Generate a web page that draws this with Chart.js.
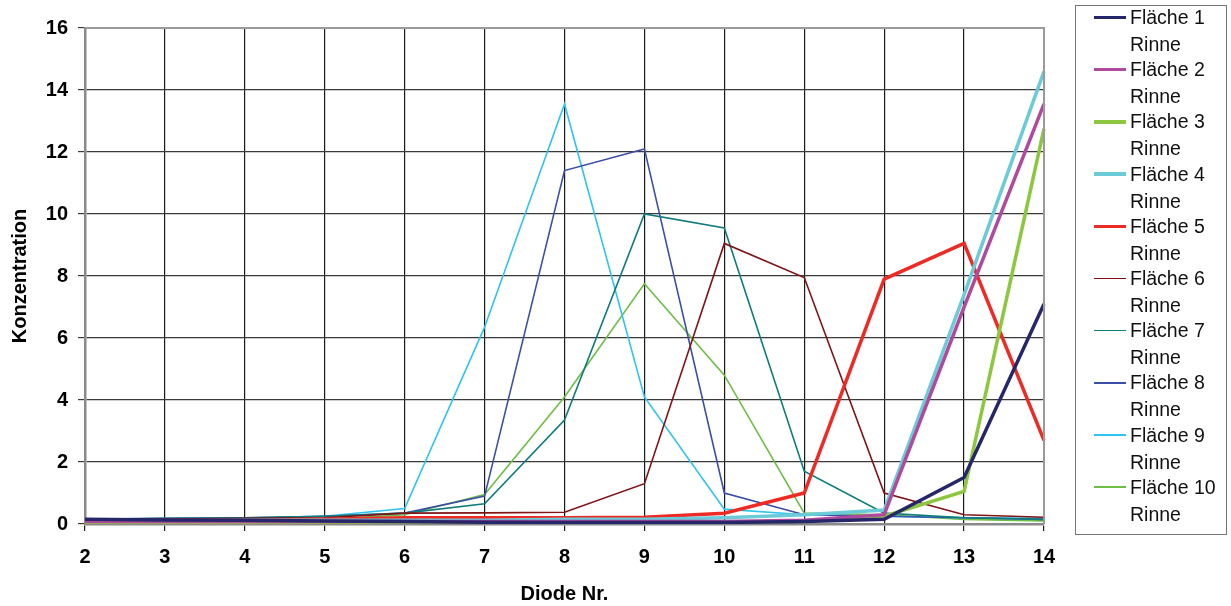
<!DOCTYPE html>
<html>
<head>
<meta charset="utf-8">
<script src="https://cdn.jsdelivr.net/npm/chart.js@4"></script>
<style>
  html, body { margin: 0; padding: 0; background: #fff; }
  #wrap { position: relative; width: 1231px; height: 606px; }
  #legend {
    position: absolute; left: 1075px; top: 5px; width: 152px; height: 530px;
    border: 1px solid #777; box-sizing: border-box;
    font-family: "Liberation Sans", Arial, sans-serif; font-size: 19.5px; color: #111;
  }
  .item { position: absolute; left: 0; }
  .swatch { position: absolute; left: 18px; width: 32px; }
  .txt { position: absolute; left: 54px; line-height: 27px; white-space: nowrap; }
</style>
</head>
<body>
<div id="wrap">
  <canvas id="chart" width="1231" height="606"></canvas>
  <div id="legend"></div>
</div>
<script>
// ---- data ----
const diodes = ['2','3','4','5','6','7','8','9','10','11','12','13','14'];
const seriesNames = ['Fläche 1','Fläche 2','Fläche 3','Fläche 4','Fläche 5','Fläche 6','Fläche 7','Fläche 8','Fläche 9','Fläche 10'];
const f1 = [0.15,0.13,0.12,0.1,0.08,0.06,0.05,0.05,0.05,0.08,0.15,1.5,7.1];
const f2 = [0.08,0.08,0.08,0.08,0.08,0.08,0.08,0.08,0.08,0.12,0.3,7.0,13.55];
const f3 = [0.05,0.05,0.05,0.05,0.05,0.05,0.05,0.05,0.06,0.1,0.25,1.05,12.75];
const f4 = [0.1,0.1,0.12,0.12,0.12,0.12,0.15,0.15,0.2,0.3,0.45,7.4,14.6];
const f5 = [0.1,0.12,0.12,0.15,0.2,0.2,0.2,0.22,0.35,1.0,7.9,9.05,2.7];
const f6 = [0.12,0.15,0.18,0.2,0.35,0.36,0.38,1.3,9.05,7.95,1.0,0.3,0.22];
const f7 = [0.15,0.18,0.2,0.25,0.35,0.65,3.35,10.0,9.55,1.7,0.35,0.2,0.15];
const f8 = [0.15,0.18,0.2,0.25,0.35,0.9,11.4,12.1,1.0,0.3,0.25,0.2,0.15];
const f9 = [0.1,0.12,0.15,0.25,0.5,6.35,13.55,4.1,0.48,0.3,0.25,0.2,0.18];
const f10 = [0.08,0.1,0.12,0.15,0.3,0.95,4.1,7.75,4.8,0.35,0.3,0.15,0.1];
const allValues = [f1,f2,f3,f4,f5,f6,f7,f8,f9,f10];

// ---- styles ----
const colors = ['#26276B','#B04A9E','#8DC63F','#6BCBD9','#EE2A24','#7F1416','#0E7C7B','#3A4FA5','#2EC3F0','#6DBE45'];
const widths = [3.5,3.5,3.5,3.5,3.5,1.6,1.6,1.6,1.6,1.6];

const datasets = allValues.map((vals, i) => ({
  label: seriesNames[i] + ' Rinne',
  data: vals,
  borderColor: colors[i],
  backgroundColor: colors[i],
  borderWidth: widths[i],
  pointRadius: 0,
  tension: 0,
  fill: false
}));

const font = { family: '"Liberation Sans", Arial, sans-serif', size: 20, weight: 'bold' };

new Chart(document.getElementById('chart'), {
  type: 'line',
  data: { labels: diodes, datasets },
  options: {
    responsive: false,
    animation: false,
    layout: { padding: { top: 28, right: 187, left: 8, bottom: 0 } },
    plugins: { legend: { display: false }, tooltip: { enabled: false } },
    scales: {
      x: {
        offset: false,
        grid: { color: '#1a1a1a', lineWidth: 1.2, tickLength: 7, offset: false },
        border: { color: '#8a8a8a', width: 2.5 },
        ticks: { color: '#000', font, padding: 14, maxRotation: 0 },
        title: { display: true, text: 'Diode Nr.', color: '#000', font, padding: { top: 4, bottom: 0 } },
        afterFit: s => { s.height = 82; }
      },
      y: {
        min: 0, max: 16,
        grid: { color: '#3a3a3a', lineWidth: 1.2, tickLength: 7 },
        border: { color: '#8a8a8a', width: 2.5 },
        ticks: { stepSize: 2, color: '#000', font, padding: 10 },
        title: { display: true, text: 'Konzentration', color: '#000', font, padding: { top: 0, bottom: 4 } },
        afterFit: s => { s.width = 77; }
      }
    }
  },
  plugins: [{
    id: 'frame',
    afterDraw(chart) {
      const { ctx, chartArea: a } = chart;
      ctx.save();
      ctx.strokeStyle = '#9a9a9a';
      ctx.lineWidth = 2;
      ctx.beginPath();
      ctx.moveTo(a.left, a.top);
      ctx.lineTo(a.right, a.top);
      ctx.lineTo(a.right, a.bottom);
      ctx.stroke();
      ctx.restore();
    }
  }]
});

// ---- legend ----
const legend = document.getElementById('legend');
seriesNames.forEach((name, i) => {
  const top = -2 + i * 52.2;
  const item = document.createElement('div');
  item.className = 'item';
  item.style.top = top + 'px';
  item.innerHTML = `
    <div class="swatch" style="top:${13.5 - widths[i] / 2}px;height:${widths[i]}px;background:${colors[i]}"></div>
    <div class="txt">${name}<br>Rinne</div>`;
  legend.appendChild(item);
});
</script>
</body>
</html>
